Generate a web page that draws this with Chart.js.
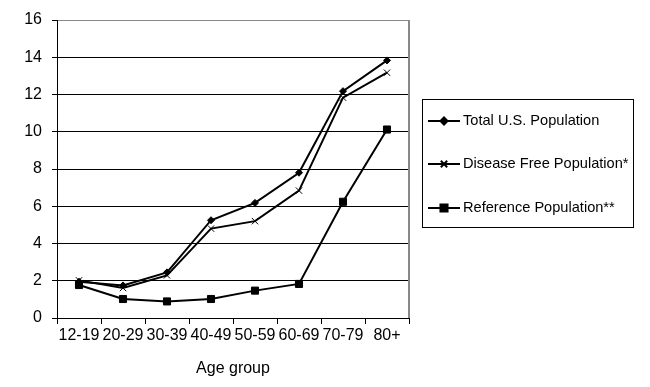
<!DOCTYPE html>
<html>
<head>
<meta charset="utf-8">
<title>Age group chart</title>
<script src="https://cdn.jsdelivr.net/npm/chart.js@4"></script>
<style>
  body { margin: 0; background: #fff; }
</style>
</head>
<body>
<canvas id="myChart" width="650" height="387"></canvas>
<script>
// datos
const ageGroups = ['12-19', '20-29', '30-39', '40-49', '50-59', '60-69', '70-79', '80+'];
const totalPop = [1.95, 1.75, 2.45, 5.25, 6.18, 7.8, 12.18, 13.83];
const diseaseFree = [2.02, 1.61, 2.29, 4.8, 5.2, 6.84, 11.83, 13.17];
const referencePop = [1.77, 1.02, 0.89, 1.02, 1.47, 1.83, 6.24, 10.12];
const yTicks = [0, 2, 4, 6, 8, 10, 12, 14, 16];

const family = 'Arial, "Liberation Sans", sans-serif';
const font = { family: family, size: 16 };

// leyenda dibujada con recuadro
const boxLegend = {
    id: 'boxLegend',
    afterDraw(chart) {
        const ctx = chart.ctx;
        ctx.save();
        ctx.strokeStyle = '#000';
        ctx.lineWidth = 1;
        ctx.strokeRect(422.5, 99.5, 211, 128);
        const rows = [121, 164, 208];
        chart.data.datasets.forEach(function(ds, i) {
            const y = rows[i];
            ctx.beginPath();
            ctx.strokeStyle = '#000';
            ctx.lineWidth = 2;
            ctx.moveTo(428, y);
            ctx.lineTo(460, y);
            ctx.stroke();
            Chart.helpers.drawPoint(ctx, {
                pointStyle: ds.pointStyle,
                radius: ds.pointRadius,
                borderWidth: 1
            }, 444, y);
            ctx.fillStyle = '#000';
            ctx.font = '14.6px ' + family;
            ctx.textBaseline = 'middle';
            ctx.fillText(ds.label, 463, y);
        });
        ctx.restore();
    }
};

const ctx = document.getElementById('myChart').getContext('2d');
const myChart = new Chart(ctx, {
    type: 'line',
    data: {
        labels: ageGroups,
        datasets: [{
            label: 'Total U.S. Population',
            data: totalPop,
            pointStyle: 'rectRot',
            pointRadius: 3.5
        }, {
            label: 'Disease Free Population*',
            data: diseaseFree,
            pointStyle: 'crossRot',
            pointRadius: 4.5
        }, {
            label: 'Reference Population**',
            data: referencePop,
            pointStyle: 'rect',
            pointRadius: 5
        }].map(function(ds) {
            return Object.assign({
                borderColor: '#000',
                backgroundColor: '#000',
                borderWidth: 2,
                pointBorderWidth: 1,
                pointBorderColor: '#000',
                pointBackgroundColor: '#000',
                tension: 0
            }, ds);
        })
    },
    options: {
        responsive: false,
        animation: false,
        layout: { padding: { top: 20, right: 241, left: 0, bottom: 0 } },
        plugins: {
            legend: { display: false },
            tooltip: { enabled: false }
        },
        scales: {
            x: {
                offset: true,
                grid: {
                    offset: true,
                    drawOnChartArea: false,
                    color: '#000',
                    tickLength: 6,
                    tickColor: '#000'
                },
                border: { color: '#000', width: 1 },
                ticks: { color: '#000', font: font, maxRotation: 0, autoSkip: false, padding: 2 },
                title: { display: true, text: 'Age group', color: '#000', font: font, padding: { top: 1, bottom: 9 } },
                afterFit(scale) { scale.height = 69; }
            },
            y: {
                min: 0,
                max: 16,
                afterBuildTicks(scale) {
                    scale.ticks = yTicks.map(function(v) { return { value: v }; });
                },
                grid: {
                    color: function(c) { return c.tick && c.tick.value === 16 ? '#888' : '#000'; },
                    tickLength: 5,
                    tickColor: '#000'
                },
                border: { color: '#000', width: 1 },
                ticks: { color: '#000', font: font, padding: 10 },
                afterFit(scale) { scale.width = 57; }
            }
        }
    },
    plugins: [boxLegend, {
        id: 'rightBorder',
        afterDraw(chart) {
            const a = chart.chartArea;
            const c = chart.ctx;
            c.save();
            c.strokeStyle = '#888';
            c.lineWidth = 2;
            c.beginPath();
            c.moveTo(a.right, a.top);
            c.lineTo(a.right, a.bottom);
            c.stroke();
            c.restore();
        }
    }]
});
</script>
</body>
</html>
